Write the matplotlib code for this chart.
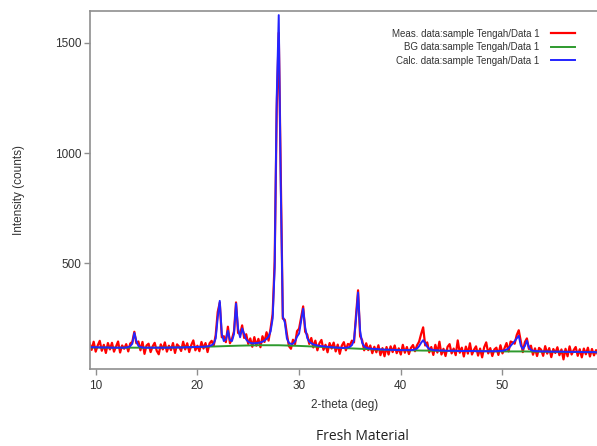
import matplotlib
matplotlib.use("Agg")
import matplotlib.pyplot as plt
import numpy as np

# 2-theta grid of the pattern (0.2 deg step)
two_theta = np.round(np.arange(9.4, 59.61, 0.2), 1)

# calculated profile (blue)
calc = [
    121, 120, 120,
    120, 120, 119, 119, 119,
    119, 119, 118, 118, 118,
    118, 118, 118, 118, 118,
    119, 121, 125, 136, 185,
    148, 126, 121, 119, 118,
    118, 118, 118, 118, 118,
    118, 118, 118, 118, 118,
    118, 118, 119, 119, 119,
    119, 119, 119, 119, 120,
    120, 120, 120, 121, 121,
    121, 122, 122, 122, 123,
    124, 126, 129, 136, 160,
    255, 330, 180, 148, 155,
    195, 152, 148, 180, 318,
    205, 165, 205, 180, 155,
    145, 140, 138, 138, 139,
    140, 142, 145, 150, 158,
    168, 192, 250, 480, 1250,
    1625, 850, 260, 232, 160,
    140, 135, 136, 146, 168,
    182, 240, 295, 210, 162,
    145, 138, 133, 130, 128,
    126, 125, 124, 123, 122,
    121, 120, 119, 119, 118,
    118, 117, 117, 118, 119,
    122, 130, 152, 250, 368,
    195, 140, 124, 118, 115,
    114, 113, 112, 112, 111,
    110, 110, 109, 109, 109,
    108, 108, 108, 107, 107,
    107, 107, 107, 107, 107,
    107, 108, 110, 114, 125,
    140, 152, 138, 122, 113,
    109, 107, 106, 106, 105,
    105, 105, 104, 104, 104,
    104, 104, 104, 103, 103,
    103, 103, 103, 103, 103,
    103, 103, 102, 102, 102,
    102, 102, 102, 102, 102,
    102, 102, 102, 103, 103,
    104, 106, 109, 116, 126,
    137, 148, 160, 172, 128,
    112, 125, 150, 120, 107,
    104, 103, 102, 102, 101,
    101, 101, 101, 100, 100,
    100, 100, 100, 100, 100,
    100, 99, 99, 99, 99,
    99, 99, 99, 99, 98,
    98, 98, 98, 98, 98,
    98, 97, 97, 97,
]

# measured minus calculated (scatter of the red trace around the blue one)
diff = [
    18, -12, 25, -20, 8, 30, -15, 12, -25, 20,
    -8, 22, -18, 5, 28, -22, 10, -5, 15, -20,
    12, 8, 5, -10, 20, -15, 25, -28, 10, 18,
    -20, 6, 22, -14, -30, 15, -8, 24, -18, 9,
    -12, 20, -25, 14, 4, -16, 26, -10, 18, -22,
    10, 30, -15, 6, -20, 22, -8, 16, -26, 12,
    20, -10, 15, 25, -8, -15, 22, -12, 18, -14,
    10, 12, 5, -20, 15, 14, -18, 24, -10, 20,
    -16, 28, -12, 18, -22, 25, -6, 30, -18, 14,
    20, 30, -50, -80, 45, -10, 12, 20, -15, -22,
    18, -12, 25, 22, 15, 10, -20, 15, -10, 24,
    -14, 20, -22, 12, 28, -16, 8, -25, 18, -6,
    22, -18, 14, -28, 10, 26, -12, 16, 8, 20,
    -10, 15, 10, -25, 12, -18, 20, -8, 14, -20,
    10, -15, 18, -26, 6, -30, 12, -22, 16, -10,
    20, -14, 8, -20, 24, -12, 14, -18, 10, 22,
    -8, 15, 20, 40, 58, -10, 20, -16, 12, -22,
    25, -10, 40, -18, 8, -24, 18, 30, -12, 10,
    -20, 48, -8, 15, -25, 20, -12, 35, -16, 6,
    22, -20, 12, -28, 18, 40, -10, 14, -22, 8,
    16, -18, 26, -12, 10, 30, -15, 20, 5, -12,
    15, 25, 20, -14, 18, 10, -8, 20, -18, 12,
    -22, 15, 8, -20, 24, -10, 16, -25, 12, -6,
    20, -16, 10, -35, 14, -20, 25, -12, 8, 22,
    -18, 12, -24, 16, -10, 20, -20, 14, -15, 10,
    -12, 8,
]

# background (green)
bg_x = [9.4, 12, 14, 16, 18, 20, 22, 24, 26, 28, 30, 32, 34, 36, 38, 40,
        42, 44, 46, 48, 50, 52, 54, 56, 58, 59.6]
bg_y = [119, 118, 118, 118, 119, 121, 124, 127, 129, 129, 126, 122, 117, 113,
        109, 107, 105, 104, 103, 102, 101, 101, 100, 99, 98, 97]

labels = ["Meas. data:sample Tengah/Data 1",
          "BG data:sample Tengah/Data 1",
          "Calc. data:sample Tengah/Data 1"]

meas = np.array(calc) + np.array(diff)

plt.rcParams["font.family"] = ["Liberation Sans", "DejaVu Sans"]

W, H = 597, 446
fig = plt.figure(figsize=(W / 100, H / 100), dpi=100)
ax = fig.add_axes([90 / W, (H - 369.3) / H, (600 - 90) / W, (369.3 - 10.7) / H])

ax.plot(two_theta, meas, color="#ff0000", lw=1.6, label=labels[0])
ax.plot(bg_x, bg_y, color="#2e9a2e", lw=1.4, label=labels[1])
ax.plot(two_theta, calc, color="#2424ff", lw=1.4, label=labels[2])

ax.set_xlim(9.44, 59.59)
ax.set_ylim(20, 1645)
ax.set_xticks([10, 20, 30, 40, 50])
ax.set_yticks([500, 1000, 1500])

for side in ["left", "bottom", "top"]:
    ax.spines[side].set_color("#8f8f8f")
    ax.spines[side].set_linewidth(1.2)
ax.spines["right"].set_visible(False)
ax.tick_params(colors="#8f8f8f", labelcolor="#333333", labelsize=8.5,
               length=4, width=1.0)
ax.tick_params(axis="y", pad=2)

ax.set_xlabel("2-theta (deg)", fontsize=8.5, color="#333333", labelpad=5)
ax.set_ylabel("Intensity (counts)", fontsize=8.5, color="#333333", labelpad=22)

leg = ax.legend(loc="upper right", bbox_to_anchor=(580 / W, (H - 24) / H),
                bbox_transform=fig.transFigure, frameon=False, fontsize=7,
                markerfirst=False, handlelength=2.5, handletextpad=1.2,
                labelspacing=0.35, borderpad=0)
for t in leg.get_texts():
    t.set_color("#333333")

fig.text(362 / W, (H - 437) / H, "Fresh Material", ha="center", va="center",
         fontsize=10, color="#222222", family=["Open Sans", "DejaVu Sans"])

fig.savefig("out.png", dpi=100)
